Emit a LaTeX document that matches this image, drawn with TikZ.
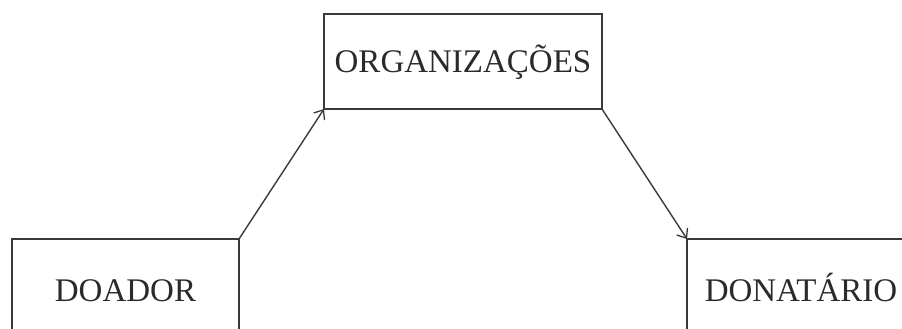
\documentclass[tikz,border=0pt]{standalone}
\usepackage{fontspec}
\setmainfont{Liberation Serif}
\usetikzlibrary{arrows.meta}
\definecolor{linegray}{HTML}{3A3A3A}
\definecolor{textgray}{HTML}{2A2A2A}
\begin{document}
\begin{tikzpicture}[x=1pt,y=-1pt,
  box/.style={draw=linegray,line width=1.5pt,rectangle,outer sep=0pt,inner sep=0pt,
    text=textgray,font=\fontsize{33}{36}\selectfont,text height=22pt,text depth=0pt},
  conn/.style={draw=linegray,line width=1.4pt,-{Straight Barb[length=8pt,width=13pt,line width=1.3pt]}}]
\useasboundingbox (0,0) rectangle (902,329);
\clip (0,0) rectangle (902,329);
\node[box,minimum width=227pt,minimum height=102pt] (doador) at (125.5,290) {DOADOR};
\node[box,minimum width=278pt,minimum height=95pt] (org) at (463,61.5) {ORGANIZAÇÕES};
\node[box,minimum width=228pt,minimum height=102pt] (donat) at (801,290) {DONATÁRIO};
\draw[conn] (doador.north east) -- (org.south west);
\draw[conn] (org.south east) -- (donat.north west);
\end{tikzpicture}
\end{document}
